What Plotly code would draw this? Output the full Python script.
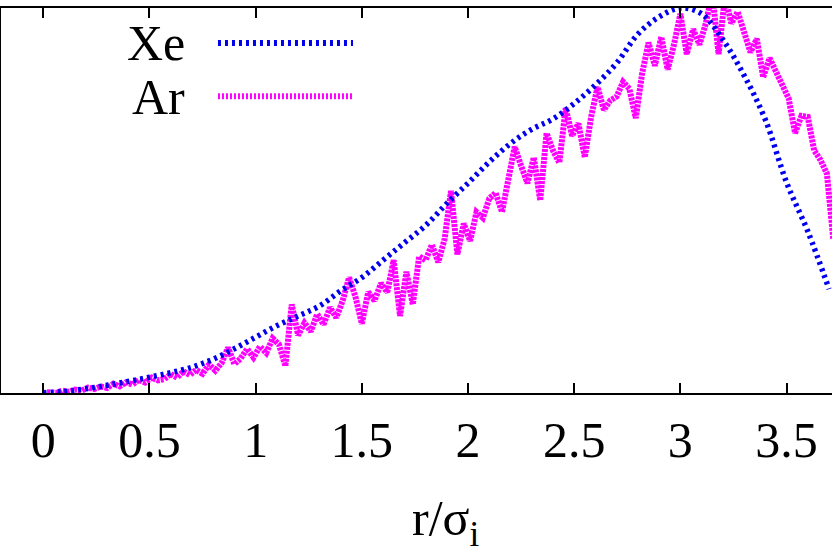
import plotly.graph_objects as go

# Xe radial distribution, r/sigma_i
xe_r = [0.0, 0.1, 0.2, 0.3, 0.4, 0.5, 0.6, 0.7, 0.8, 0.9,
        1.0, 1.1, 1.2, 1.3, 1.4, 1.5, 1.6, 1.7, 1.8, 1.9,
        2.0, 2.1, 2.2, 2.3, 2.4, 2.5, 2.6, 2.7, 2.8, 2.9,
        3.0, 3.1, 3.2, 3.3, 3.4, 3.5, 3.6, 3.7]
xe_g = [0.000, 0.004, 0.011, 0.020, 0.030, 0.041, 0.053, 0.067, 0.088, 0.115,
        0.145, 0.175, 0.200, 0.226, 0.265, 0.300, 0.345, 0.390, 0.435, 0.492,
        0.545, 0.600, 0.648, 0.685, 0.712, 0.752, 0.800, 0.857, 0.932, 0.977,
        1.000, 0.985, 0.918, 0.825, 0.710, 0.547, 0.420, 0.270]

# Ar radial distribution (noisy), sampled every 0.03
ar_r = [round(0.03 * i, 2) for i in range(125)]
ar_g = [0.000, 0.002, 0.000, 0.006, 0.003, 0.009, 0.006, 0.014, 0.010, 0.017,
        0.013, 0.024, 0.017, 0.028, 0.022, 0.034, 0.027, 0.040, 0.033, 0.036,
        0.049, 0.040, 0.056, 0.047, 0.060, 0.050, 0.074, 0.058, 0.078, 0.118,
        0.075, 0.090, 0.115, 0.092, 0.121, 0.104, 0.142, 0.126, 0.070, 0.230,
        0.150, 0.182, 0.160, 0.205, 0.178, 0.222, 0.196, 0.240, 0.300, 0.250,
        0.180, 0.262, 0.240, 0.285, 0.262, 0.345, 0.200, 0.315, 0.230, 0.355,
        0.345, 0.385, 0.340, 0.400, 0.525, 0.360, 0.440, 0.395, 0.470, 0.455,
        0.505, 0.520, 0.470, 0.560, 0.640, 0.590, 0.545, 0.612, 0.500, 0.675,
        0.630, 0.598, 0.740, 0.668, 0.700, 0.612, 0.718, 0.795, 0.735, 0.760,
        0.770, 0.808, 0.790, 0.714, 0.830, 0.910, 0.850, 0.925, 0.840, 0.905,
        0.985, 0.880, 0.945, 0.905, 0.960, 1.040, 0.880, 1.030, 0.960, 0.990,
        0.940, 0.885, 0.920, 0.820, 0.870, 0.830, 0.800, 0.765, 0.675, 0.720,
        0.717, 0.630, 0.605, 0.570, 0.400]

tick_vals = [0, 0.5, 1, 1.5, 2, 2.5, 3, 3.5]
tick_text = ["0", "0.5", "1", "1.5", "2", "2.5", "3", "3.5"]
series_names = ["Xe", "Ar"]

XE_COLOR = "#0000ee"
AR_COLOR = "#ff00ff"
FONT = "Liberation Serif"

fig = go.Figure()
fig.add_trace(go.Scatter(x=ar_r, y=ar_g, mode="lines", name=series_names[1],
                         line=dict(color=AR_COLOR, width=6, dash="3px,1px"),
                         showlegend=False))
fig.add_trace(go.Scatter(x=xe_r, y=xe_g, mode="lines", name=series_names[0],
                         line=dict(color=XE_COLOR, width=5.5, dash="3px,4px", shape="spline"),
                         showlegend=False))

# legend drawn manually (text to the left of the samples)
fig.add_annotation(xref="paper", yref="paper", x=0.2238, y=0.908, text=series_names[0],
                   showarrow=False, xanchor="right", yanchor="middle",
                   font=dict(family=FONT, size=50, color="black"))
fig.add_annotation(xref="paper", yref="paper", x=0.2238, y=0.770, text=series_names[1],
                   showarrow=False, xanchor="right", yanchor="middle",
                   font=dict(family=FONT, size=50, color="black"))
fig.add_shape(type="line", xref="paper", yref="paper", x0=0.2611, x1=0.4236, y0=0.909, y1=0.909,
              line=dict(color=XE_COLOR, width=6, dash="3px,4px"))
fig.add_shape(type="line", xref="paper", yref="paper", x0=0.2611, x1=0.4236, y0=0.771, y1=0.771,
              line=dict(color=AR_COLOR, width=6, dash="2px,2px"))

# axis title
fig.add_annotation(xref="paper", yref="paper", x=0.535, y=-0.246, text="r/σ<sub>i</sub>",
                   showarrow=False, xanchor="center", yanchor="top",
                   font=dict(family=FONT, size=50, color="black"))

fig.update_layout(
    width=832, height=549,
    margin=dict(l=1, r=0, t=8, b=156),
    paper_bgcolor="white", plot_bgcolor="white",
    font=dict(family=FONT, size=50, color="black"),
)
fig.update_xaxes(range=[-0.199, 3.714], tickvals=tick_vals, ticktext=tick_text,
                 ticks="inside", ticklen=10, tickwidth=1.5, tickcolor="black",
                 showline=True, linecolor="black", linewidth=2, mirror="ticks",
                 showgrid=False, zeroline=False, ticklabelstandoff=2,
                 tickfont=dict(family=FONT, size=50, color="black"))
fig.update_yaxes(range=[0, 1], showticklabels=False, ticks="",
                 showline=True, linecolor="black", linewidth=2, mirror=False,
                 showgrid=False, zeroline=False)

fig.write_html("out.html", config={"displayModeBar": False},
               post_script="document.body.style.margin='0';document.body.style.overflow='hidden';")
